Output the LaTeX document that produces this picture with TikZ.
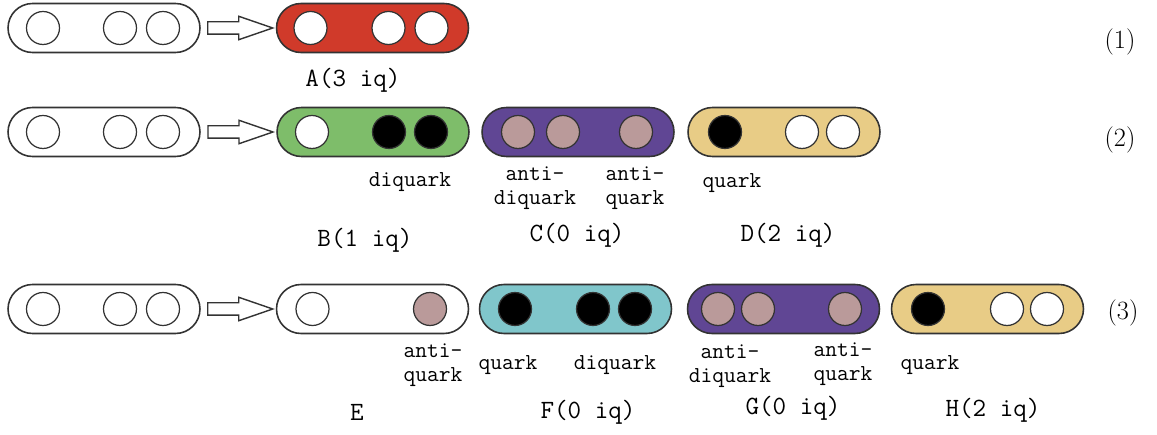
\documentclass[tikz,border=0pt]{standalone}
\usepackage{tikz}
\usetikzlibrary{calc,shapes.arrows}
\definecolor{capred}{RGB}{208,58,42}
\definecolor{capgreen}{RGB}{126,189,106}
\definecolor{cappurple}{RGB}{96,70,148}
\definecolor{captan}{RGB}{232,204,134}
\definecolor{capcyan}{RGB}{128,198,203}
\definecolor{antipink}{RGB}{186,154,154}
\tikzset{
	capsule/.style={draw=black!80, line width=0.9pt, rounded corners=0.49cm,
		minimum width=3.84cm, minimum height=0.98cm, inner sep=0pt},
	ball/.style={circle, draw=black!80, line width=0.7pt, minimum size=0.66cm, inner sep=0pt},
	blockarrow/.style={single arrow, draw=black!80, line width=0.8pt, fill=white,
		minimum height=1.3cm, minimum width=0.44cm, inner xsep=0pt, inner ysep=0.11cm,
		single arrow head extend=0.11cm, single arrow tip angle=38},
	tag/.style={font=\fontsize{13}{13.5}\selectfont\ttfamily, align=center, inner sep=0pt},
	hadron/.style={font=\fontsize{15}{15}\selectfont\ttfamily, inner sep=0pt},
	rownum/.style={font=\fontsize{15}{15}\selectfont, inner sep=0pt}
}
\begin{document}
\begin{tikzpicture}[x=0.02cm, y=-0.02cm]
	\useasboundingbox (0,0) rectangle (1157,435);
	
	%% ── Initial states (left column) ───────────────────────────────
	\foreach \r/\y in {1/28,2/132,3/309} {
		\node[capsule] (L\r) at (104,\y) {};
		\foreach \dx [count=\i] in {-61,16,59}
		\node[ball, fill=white] (L\r-\i) at ($(L\r)+(\dx,0)$) {};
	}
	
	%% ── Row 1 ──────────────────────────────────────────────────────
	\node[capsule, fill=capred] (A) at (372.5,28) {};
	\foreach \dx/\col [count=\i] in {-62/white,16/white,59/white}
	\node[ball, fill=\col] (A-\i) at ($(A)+(\dx,0)$) {};
	
	%% ── Row 2 ──────────────────────────────────────────────────────
	\node[capsule, fill=capgreen] (B) at (373,132) {};
	\foreach \dx/\col [count=\i] in {-61/white,16/black,58/black}
	\node[ball, fill=\col] (B-\i) at ($(B)+(\dx,0)$) {};
	
	\node[capsule, fill=cappurple] (C) at (578,132) {};
	\foreach \dx/\col [count=\i] in {-60/antipink,-15/antipink,58/antipink}
	\node[ball, fill=\col] (C-\i) at ($(C)+(\dx,0)$) {};
	
	\node[capsule, fill=captan] (D) at (784,132) {};
	\foreach \dx/\col [count=\i] in {-59/black,18/white,59/white}
	\node[ball, fill=\col] (D-\i) at ($(D)+(\dx,0)$) {};
	
	%% ── Row 3 ──────────────────────────────────────────────────────
	\node[capsule, fill=white] (E) at (372.5,309) {};
	\foreach \dx/\col [count=\i] in {-60/white,57.5/antipink}
	\node[ball, fill=\col] (E-\i) at ($(E)+(\dx,0)$) {};
	
	\node[capsule, fill=capcyan] (F) at (575.5,309) {};
	\foreach \dx/\col [count=\i] in {-60.5/black,17.5/black,59.5/black}
	\node[ball, fill=\col] (F-\i) at ($(F)+(\dx,0)$) {};
	
	\node[capsule, fill=cappurple] (G) at (783.5,309) {};
	\foreach \dx/\col [count=\i] in {-65.5/antipink,-25.5/antipink,61.5/antipink}
	\node[ball, fill=\col] (G-\i) at ($(G)+(\dx,0)$) {};
	
	\node[capsule, fill=captan] (H) at (987.5,309) {};
	\foreach \dx/\col [count=\i] in {-59.5/black,19.5/white,59.5/white}
	\node[ball, fill=\col] (H-\i) at ($(H)+(\dx,0)$) {};
	
	%% ── Block arrows ───────────────────────────────────────────────
	\foreach \r/\t in {1/A,2/B,3/E}
	\node[blockarrow, xshift=-0.14cm] (ar\r) at ($(L\r.east)!0.5!(\t.west)$) {};
	
	%% ── Constituent labels ─────────────────────────────────────────
	\node[tag] (lbB) at (410,182) {diquark};
	\node[tag] (lbC1) at (535,188.5) {anti-\\diquark};
	\node[tag] (lbC2) at (635,188.5) {anti-\\quark};
	\node[tag] (lbD) at (732,183) {quark};
	\node[tag] (lbE) at (433,365) {anti-\\quark};
	\node[tag] (lbF1) at (508,365) {quark};
	\node[tag] (lbF2) at (615,365) {diquark};
	\node[tag] (lbG1) at (730,366) {anti-\\diquark};
	\node[tag] (lbG2) at (843,364) {anti-\\quark};
	\node[tag] (lbH) at (930,365) {quark};
	
	%% ── State names ────────────────────────────────────────────────
	\node[hadron] (nA) at (353,80) {A(3 iq)};
	\node[hadron] (nB) at (365,240) {B(1 iq)};
	\node[hadron] (nC) at (577,235) {C(0 iq)};
	\node[hadron] (nD) at (788,235) {D(2 iq)};
	\node[hadron] (nE) at (357,412) {E};
	\node[hadron] (nF) at (588,412) {F(0 iq)};
	\node[hadron] (nG) at (793,408) {G(0 iq)};
	\node[hadron] (nH) at (993,410) {H(2 iq)};
	
	%% ── Row numbers ────────────────────────────────────────────────
	\node[rownum] (r1) at (1120,42) {(1)};
	\node[rownum] (r2) at (1120,140) {(2)};
	\node[rownum] (r3) at (1123,313) {(3)};
\end{tikzpicture}
\end{document}
